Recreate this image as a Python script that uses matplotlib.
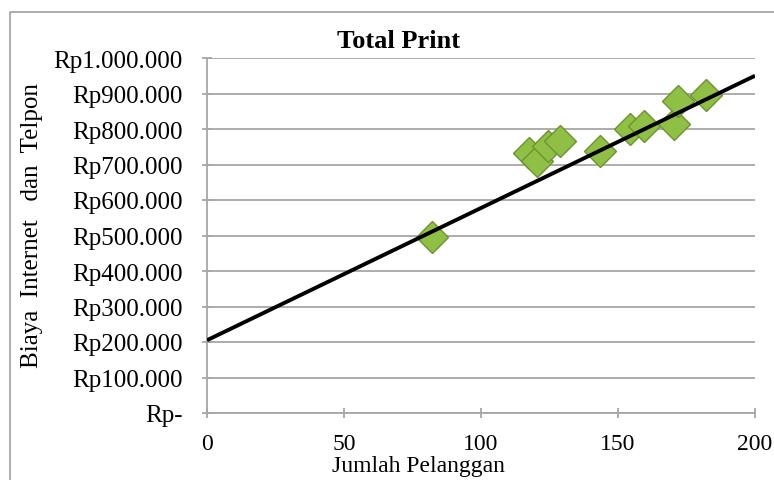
import matplotlib
matplotlib.use("Agg")
import matplotlib.pyplot as plt
from matplotlib.lines import Line2D

# values
pelanggan = [82, 117.5, 120.5, 124.5, 129, 143.5, 154.5, 159.5, 170.5, 172, 182]
biaya = [496000, 733000, 710000, 752000, 766000, 738000, 800000, 808000,
         814000, 878000, 897000]

# linear trend line (Excel trendline) read from its ends
trend_x = [0, 200]
trend_y = [205000, 950000]

x_ticks = [0, 50, 100, 150, 200]
y_ticks = [0, 100000, 200000, 300000, 400000, 500000, 600000, 700000,
           800000, 900000, 1000000]
y_tick_labels = ["Rp-", "Rp100.000", "Rp200.000", "Rp300.000", "Rp400.000",
                 "Rp500.000", "Rp600.000", "Rp700.000", "Rp800.000",
                 "Rp900.000", "Rp1.000.000"]

W, H = 774, 481
grid_color = "#a6a6a6"

plt.rcParams["font.family"] = ["Liberation Serif", "DejaVu Serif"]

fig = plt.figure(figsize=(W / 100, H / 100), dpi=100)

# chart area border (only left and top edges fall inside the picture)
bx, by = 9.5 / W, 1 - 13 / H
fig.lines.append(Line2D([bx, bx, 1.0], [0.0, by, by], transform=fig.transFigure,
                        color="#a0a0a0", linewidth=1.2))

left, right, top, bottom = 207, 755, 59, 414
ax = fig.add_axes([left / W, (H - bottom) / H, (right - left) / W,
                   (bottom - top) / H])

ax.set_xlim(0, 200)
ax.set_ylim(0, 1000000)

ax.yaxis.grid(True, color=grid_color, linewidth=1.3)
ax.set_axisbelow(True)

ax.plot(pelanggan, biaya, linestyle="none", marker="D", markersize=16,
        markerfacecolor="#8fc045", markeredgecolor="#6b9330",
        markeredgewidth=1.0, zorder=3)
ax.plot(trend_x, trend_y, color="black", linewidth=2.8, zorder=4,
        solid_capstyle="butt")

for side in ["top", "right"]:
    ax.spines[side].set_visible(False)
for side in ["left", "bottom"]:
    ax.spines[side].set_color(grid_color)
    ax.spines[side].set_linewidth(1.3)

ax.set_xticks(x_ticks)
ax.set_yticks(y_ticks)
ax.set_yticklabels(y_tick_labels)
ax.tick_params(axis="both", color=grid_color, width=1.3, length=7,
               direction="inout")
ax.tick_params(axis="y", labelsize=18, pad=14)
ax.tick_params(axis="x", labelsize=17, pad=11)

ax.set_title("Total Print", fontsize=19, fontweight="bold", pad=8,
             x=0.35)
ax.set_xlabel("Jumlah Pelanggan", fontsize=17)
ax.xaxis.set_label_coords(0.385, -0.118)
ax.set_ylabel("Biaya  Internet   dan  Telpon", fontsize=18)
ax.yaxis.set_label_coords(-0.30, 0.53)

fig.savefig("out.png", dpi=100)
